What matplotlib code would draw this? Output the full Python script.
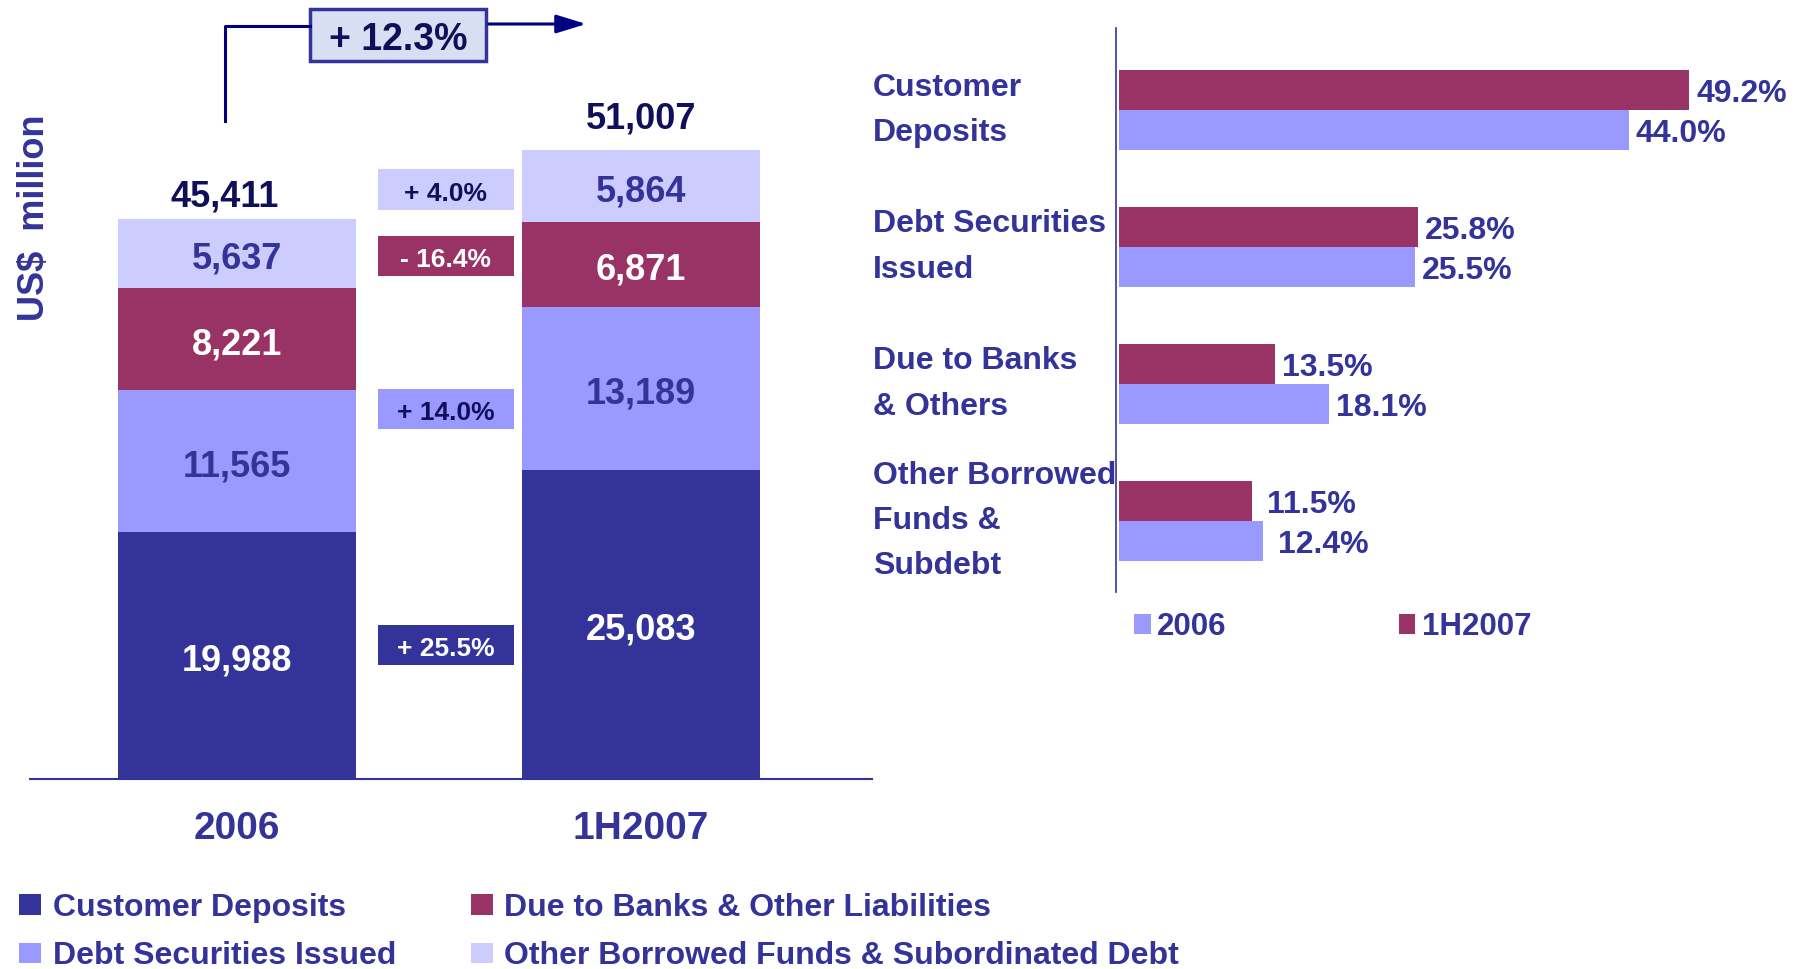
import numpy as np
import matplotlib
matplotlib.use("Agg")
import matplotlib.pyplot as plt
from matplotlib.patches import Patch, Rectangle, FancyArrowPatch
from matplotlib.lines import Line2D

plt.rcParams['font.family'] = ['Liberation Sans', 'DejaVu Sans']
plt.rcParams['font.weight'] = 'bold'

# --- data: funding mix, US$ million ---
periods = ['2006', '1H2007']
customer_deposits = [19988, 25083]
debt_securities = [11565, 13189]
due_to_banks = [8221, 6871]
other_borrowed = [5637, 5864]
series_names = ['Customer Deposits', 'Debt Securities Issued',
                'Due to Banks & Other Liabilities',
                'Other Borrowed Funds & Subordinated Debt']

# where the growth boxes sit between the two bars (value axis)
change_box_y = [10900, 30000, 42400, 47800]

# --- data: share of total funding, % ---
mix_categories = ['Customer\nDeposits', 'Debt Securities\nIssued',
                  'Due to Banks\n& Others', 'Other Borrowed\nFunds &\nSubdebt']
mix_2006 = [44.0, 25.5, 18.1, 12.4]
mix_1h2007 = [49.2, 25.8, 13.5, 11.5]

# colours
DARK = '#333399'
MID = '#9999FF'
RED = '#993366'
LIGHT = '#CCCCFF'
NAVY = '#333399'
INK = '#10105A'
ARROW = '#000080'

W, H = 1804, 969
fig = plt.figure(figsize=(W / 100, H / 100), dpi=100)


def fx(x):
    return x / W


def fy(y):
    return 1 - y / H


# ---------------- left: stacked bars ----------------
ax = fig.add_axes([fx(30), fy(779), 842 / W, 740 / H])
x = np.arange(len(periods))
stack = [customer_deposits, debt_securities, due_to_banks, other_borrowed]
colors = [DARK, MID, RED, LIGHT]
text_cols = ['white', NAVY, 'white', NAVY]
bottom = np.zeros(len(periods))
for vals, c, tc in zip(stack, colors, text_cols):
    vals = np.array(vals)
    ax.bar(x, vals, 0.59, bottom=bottom, color=c, linewidth=0)
    for xi, b, v in zip(x, bottom, vals):
        ax.annotate(f'{v:,}', (xi, b + v / 2), xytext=(0, -4),
                    textcoords='offset points', ha='center', va='center',
                    fontsize=26, color=tc)
    bottom += vals

total_offset = [(-9, 16), (0, 22)]
for xi, tot, off in zip(x, bottom, total_offset):
    ax.annotate(f'{int(tot):,}', (xi, tot), xytext=off,
                textcoords='offset points', ha='center', va='center',
                fontsize=26, color=INK)

# growth boxes between the bars
box_h = 3250
for vals, c, tc, yc in zip(stack, colors, text_cols, change_box_y):
    pct = (vals[1] / vals[0] - 1) * 100
    sign = '+' if pct >= 0 else '-'
    ax.bar(0.517, box_h, 0.337, bottom=yc - box_h / 2, color=c, linewidth=0)
    ax.annotate(f'{sign} {abs(pct):.1f}%', (0.517, yc), xytext=(0, -3),
                textcoords='offset points', ha='center', va='center',
                fontsize=19, color=tc if tc == 'white' else INK)

ax.set_xlim(-0.512, 1.572)
ax.set_ylim(0, 60000)
for s in ['top', 'right', 'left']:
    ax.spines[s].set_visible(False)
ax.spines['bottom'].set_color(NAVY)
ax.spines['bottom'].set_linewidth(1.5)
ax.set_yticks([])
ax.set_xticks(x)
ax.set_xticklabels(periods, fontsize=28, color=NAVY)
ax.tick_params(axis='x', length=0, pad=23)

fig.text(fx(35), fy(218), 'US$  million', rotation=90, ha='center',
         va='center', fontsize=26, color=NAVY)

# overall growth arrow
total_pct = (bottom[1] / bottom[0] - 1) * 100
fig.add_artist(Line2D([fx(225), fx(225), fx(310)], [fy(121), fy(26), fy(26)],
                      color=ARROW, lw=2.2))
fig.add_artist(Rectangle((fx(310), fy(61)), 176 / W, 52 / H,
                         transform=fig.transFigure, facecolor='#D9DFF2',
                         edgecolor=NAVY, lw=2.5))
fig.text(fx(398), fy(40), f'+ {total_pct:.1f}%', ha='center', va='center',
         fontsize=27, color=INK)
fig.add_artist(FancyArrowPatch((fx(486), fy(24)), (fx(589), fy(24)),
                               transform=fig.transFigure,
                               arrowstyle='-|>,head_length=1.3,head_width=0.4',
                               mutation_scale=14, color=ARROW, lw=2.2))

# ---------------- right: share bars ----------------
ax2 = fig.add_axes([fx(1116), fy(592), 684 / W, 564 / H])
idx = np.arange(len(mix_categories))
h = 0.29
ax2.barh(idx - h / 2, mix_1h2007, h, left=0.25, color=RED, linewidth=0)
ax2.barh(idx + h / 2, mix_2006, h, left=0.25, color=MID, linewidth=0)
label_gap = [5, 5, 5, 11]
for i in idx:
    ax2.annotate(f'{mix_1h2007[i]:.1f}%', (mix_1h2007[i] + 0.25, i - h / 2),
                 xytext=(label_gap[i], -3), textcoords='offset points',
                 ha='left', va='center', fontsize=23, color=NAVY)
    ax2.annotate(f'{mix_2006[i]:.1f}%', (mix_2006[i] + 0.25, i + h / 2),
                 xytext=(label_gap[i], -3), textcoords='offset points',
                 ha='left', va='center', fontsize=23, color=NAVY)
    ax2.text(-0.355, i, mix_categories[i], transform=ax2.get_yaxis_transform(),
             ha='left', va='center', fontsize=23, color=NAVY, linespacing=1.66)

ax2.set_xlim(0, 59)
ax2.set_ylim(3.52, -0.6)
for s in ['top', 'right', 'bottom']:
    ax2.spines[s].set_visible(False)
ax2.spines['left'].set_color(NAVY)
ax2.spines['left'].set_linewidth(1.2)
ax2.set_xticks([])
ax2.set_yticks([])

fig.legend(handles=[Patch(color=MID, lw=0), Patch(color=RED, lw=0)],
           labels=['2006', '1H2007'], loc='center left',
           bbox_to_anchor=(fx(1134), fy(627)), ncol=2, frameon=False,
           fontsize=22.5, handlelength=0.54, handleheight=0.6,
           handletextpad=0.2, columnspacing=5.5, borderpad=0,
           borderaxespad=0, labelcolor=NAVY)

# bottom legend
fig.legend(handles=[Patch(color=c, lw=0) for c in colors],
           labels=series_names, loc='center left',
           bbox_to_anchor=(fx(19), fy(932)), ncol=2, frameon=False,
           fontsize=23, handlelength=0.69, handleheight=0.6,
           handletextpad=0.37, columnspacing=2.33, labelspacing=0.58,
           borderpad=0, borderaxespad=0, labelcolor=NAVY)

fig.savefig('out.png', dpi=100)
